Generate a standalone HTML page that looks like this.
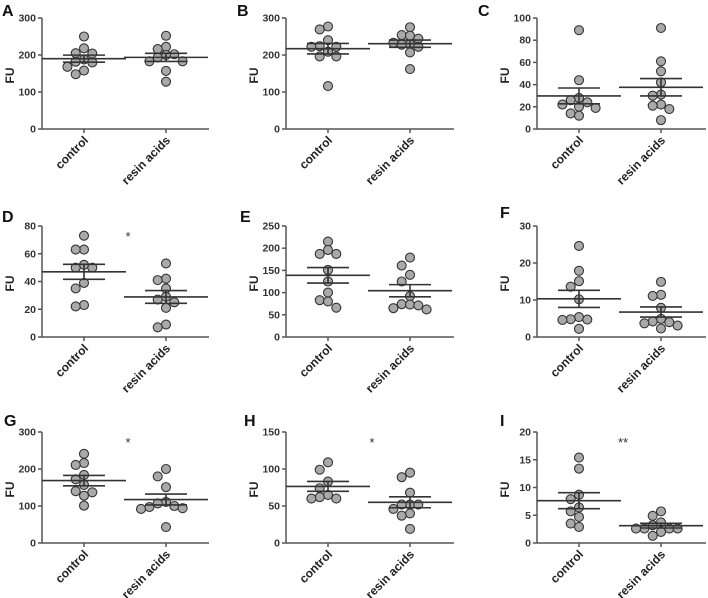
<!DOCTYPE html>
<html><head><meta charset="utf-8">
<style>
html,body{margin:0;padding:0;background:#fff;}
svg{display:block;font-family:"Liberation Sans",Arial,sans-serif;}
</style></head>
<body>
<svg id="chart" width="708" height="598" viewBox="0 0 708 598"></svg>
<script>
const categories = ["control", "resin acids"];
const panelLetters = ["A","B","C","D","E","F","G","H","I"];
const yMaxes = [300,300,100,80,250,30,300,150,20];
const yStepsArr = [100,100,20,20,50,10,100,50,5];
const sigLabels = ["","","","*","","","*","*","**"];
const controlA = [250,218,204,205,182,180,188,168,158,148];
const resinA = [252,222,202,200,216,193,183,183,157,128];
const controlB = [277,269,240,224,222,222,209,196,196,116];
const resinB = [275,252,254,244,233,228,222,229,207,162];
const controlC = [89,44,28,24,26,22,19,20,12,14];
const resinC = [91,61,52,42,30,31,21,22,18,8];
const controlD = [73,63,63,52,50,50,39,35,22,23];
const resinD = [53,41,42,35,29,27,25,21,7,9];
const controlE = [215,196,187,187,151,125,100,83,80,66];
const resinE = [179,161,140,125,92,74,71,73,62,65];
const controlF = [24.6,17.9,15.1,13.6,10.2,4.8,4.7,5.4,4.6,2.2];
const resinF = [14.9,11.4,11.1,7.9,4.9,4.2,3.7,3.1,4.0,2.3];
const controlG = [241,211,216,184,172,157,137,128,140,101];
const resinG = [200,180,151,111,100,94,92,97,107,43];
const controlH = [109,99,83,74,62,60,60,65];
const resinH = [95,89,68,52,52,52,40,37,46,19];
const controlI = [15.4,13.4,8.7,7.9,6.4,5.7,4.7,3.5,2.9];
const resinI = [5.7,4.9,3.7,3.2,2.6,2.6,2.6,2.6,2.0,1.3];
const controlSeries = [controlA,controlB,controlC,controlD,controlE,controlF,controlG,controlH,controlI];
const resinSeries = [resinA,resinB,resinC,resinD,resinE,resinF,resinG,resinH,resinI];

const NS = "http://www.w3.org/2000/svg";
const svg = document.getElementById("chart");
function mk(tag, attrs, parent){
  const e = document.createElementNS(NS, tag);
  for (const k in attrs) e.setAttribute(k, attrs[k]);
  (parent||svg).appendChild(e);
  return e;
}
const colX = [42, 286, 537];
const colRight = [209, 454, 706];
const rowTop = [18, 226, 432];
const rowBot = [129, 337, 543];
const labelPos = [[2,16],[237,16],[478,16],[2,222],[240,222],[500,218],[4,426],[244,426],[500,426]];

for (let p = 0; p < 9; p++) {
  const col = p % 3, row = Math.floor(p / 3);
  const ax = colX[col], right = colRight[col], top = rowTop[row], bot = rowBot[row];
  const g = mk("g", {});
  
  
  const ymax = yMaxes[p], step = yStepsArr[p];
  const y = v => bot - (v / ymax) * (bot - top);
  const cx1 = ax + 42, cx2 = ax + 124;
  const centers = [cx1, cx2];
  const lt = mk("text", {x: labelPos[p][0], y: labelPos[p][1], "font-size": 16, "font-weight": "bold", fill: "#111"}, g);
  lt.textContent = panelLetters[p];
  
  
  const ya = mk("line", {x1: ax, y1: top, x2: ax, y2: bot, stroke: "#555", "stroke-width": 1.5}, g);
  
  
  const xa = mk("line", {x1: ax, y1: bot, x2: right, y2: bot, stroke: "#555", "stroke-width": 1.5}, g);
  
  
  for (let v = 0; v <= ymax + 1e-9; v += step) {
    mk("line", {x1: ax - 4, y1: y(v), x2: ax, y2: y(v), stroke: "#555", "stroke-width": 1.5}, g);
    const t = mk("text", {x: ax - 6, y: y(v) + 3.5, "font-size": 10.5, "font-weight": "bold", fill: "#333", "text-anchor": "end"}, g);
    t.textContent = v;
    
    
  }
  const yt = mk("text", {x: 0, y: 0, "font-size": 12, "font-weight": "bold", fill: "#222", "text-anchor": "middle",
    transform: `translate(${ax - 28},${(top + bot) / 2 + 2}) rotate(-90)`}, g);
  yt.textContent = "FU";
  
  
  for (let c = 0; c < 2; c++) {
    mk("line", {x1: centers[c], y1: bot, x2: centers[c], y2: bot + 4, stroke: "#555", "stroke-width": 1.5}, g);
    const ct = mk("text", {x: 0, y: 0, "font-size": 12, "font-weight": "bold", fill: "#222", "text-anchor": "end",
      transform: `translate(${centers[c] + 5},${bot + 12}) rotate(-45)`}, g);
    ct.textContent = categories[c];
    
    
  }
  const series = [controlSeries[p], resinSeries[p]];
  for (let c = 0; c < 2; c++) {
    const vals = series[c];
    const n = vals.length;
    const mean = vals.reduce((a, b) => a + b, 0) / n;
    const sd = Math.sqrt(vals.reduce((a, b) => a + (b - mean) * (b - mean), 0) / (n - 1));
    const sem = sd / Math.sqrt(n);
    const cx = centers[c];
    const order = vals.map((v, i) => i).sort((a, b) => vals[b] - vals[a]);
    const placed = [];
    const offs = [0, -8.3, 8.3, -16.6, 16.6, -25, 25];
    const r = 4.5;
    for (const i of order) {
      const py = y(vals[i]);
      let px = cx, best = -1;
      for (const o of offs) {
        const tx = cx + o;
        const md = placed.length ? Math.min(...placed.map(q => Math.hypot(q[0] - tx, q[1] - py))) : 99;
        if (md >= 8) { px = tx; best = 99; break; }
        if (md > best) { best = md; px = tx; }
      }
      placed.push([px, py]);
      const d = mk("circle", {cx: px, cy: py, r: r, fill: "#a9a9a9", stroke: "#333", "stroke-width": 1.1}, g);
      
      
    }
    const ml = mk("line", {x1: cx - 42, y1: y(mean), x2: cx + 42, y2: y(mean), stroke: "#333", "stroke-width": 1.6}, g);
    
    
    const eg = mk("g", {stroke: "#333", "stroke-width": 1.6}, g);
    
    
    mk("line", {x1: cx, y1: y(mean + sem), x2: cx, y2: y(mean - sem)}, eg);
    mk("line", {x1: cx - 21, y1: y(mean + sem), x2: cx + 21, y2: y(mean + sem)}, eg);
    mk("line", {x1: cx - 21, y1: y(mean - sem), x2: cx + 21, y2: y(mean - sem)}, eg);
  }
  if (sigLabels[p]) {
    const st = mk("text", {x: (cx1 + cx2) / 2 + 3, y: top + 15, "font-size": 13, fill: "#333", "text-anchor": "middle"}, g);
    st.textContent = sigLabels[p];
    
    
  }
}
</script>
</body></html>
